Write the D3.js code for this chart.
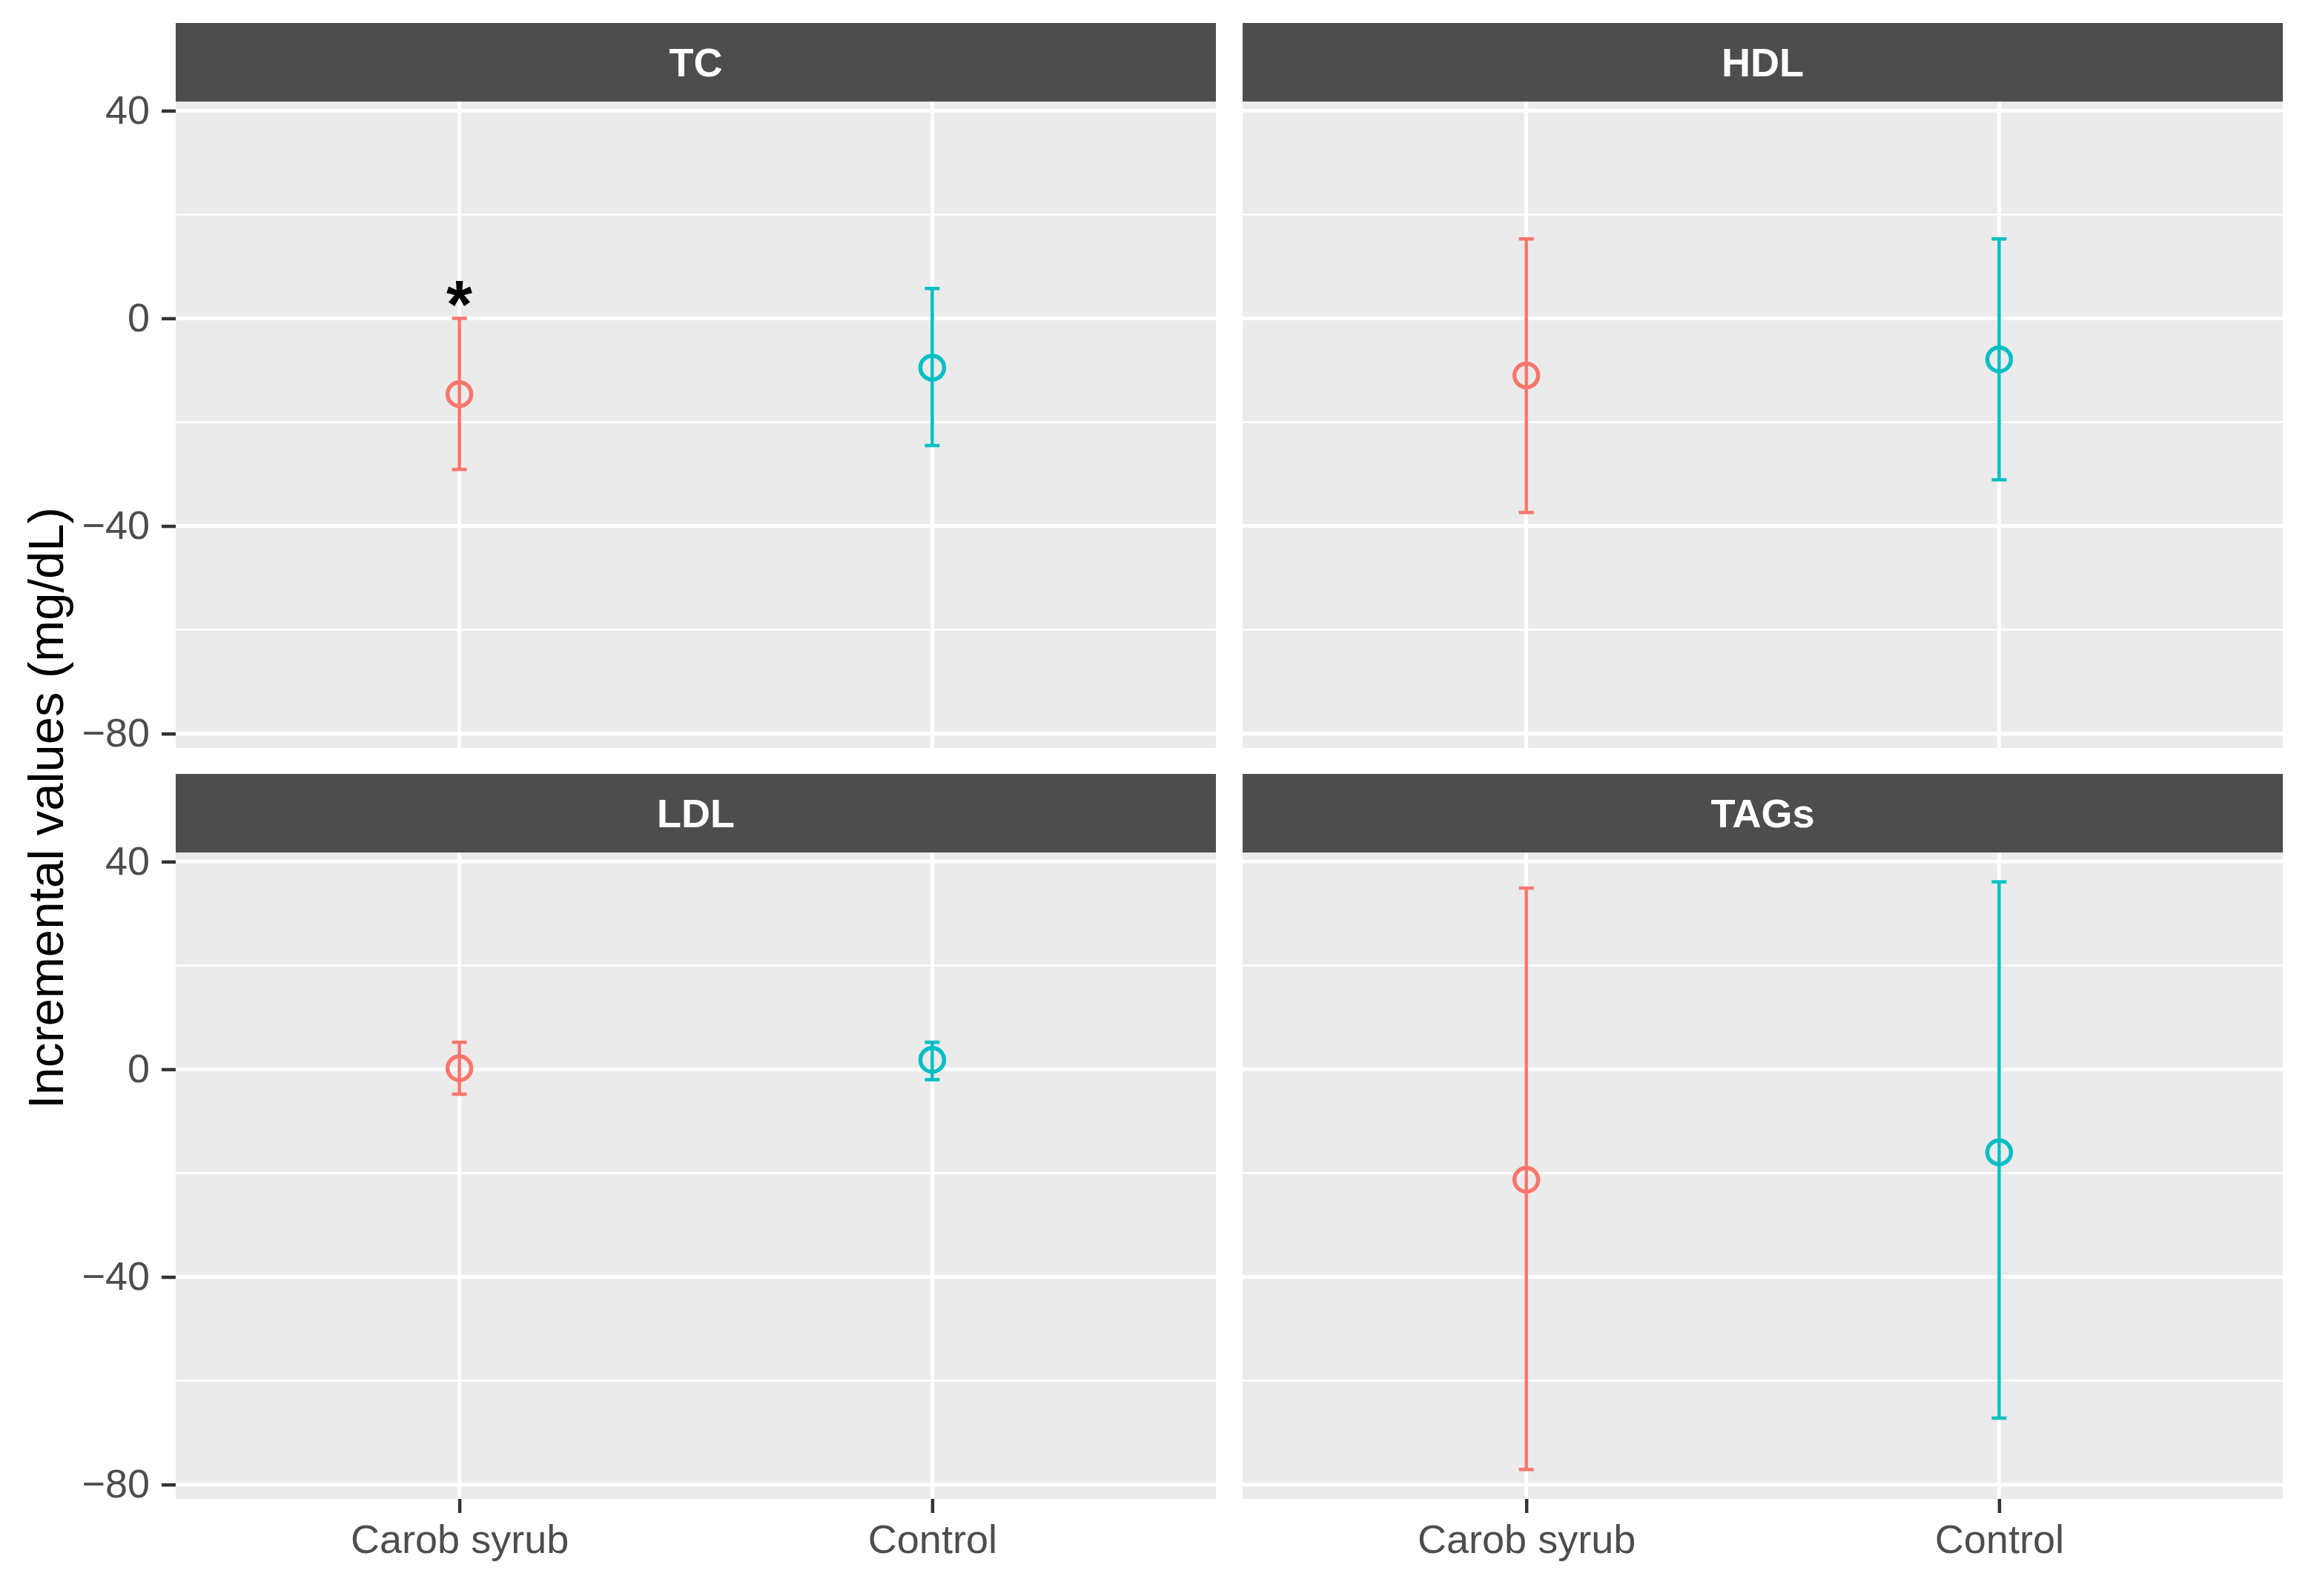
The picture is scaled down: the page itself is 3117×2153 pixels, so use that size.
<!DOCTYPE html>
<html>
<head>
<meta charset="utf-8">
<script src="https://cdn.jsdelivr.net/npm/d3@7"></script>
<style>
  body { margin: 0; background: #fff; }
  svg { display: block; font-family: "Liberation Sans", Arial, sans-serif; }
</style>
</head>
<body>
<svg id="chart"></svg>
<script>
// Values (mg/dL)
const panels = ['TC', 'HDL', 'LDL', 'TAGs'];
const groups = ['Carob syrub', 'Control'];
const means = [[-14.6, -9.5], [-11.0, -7.9], [0.2, 1.8], [-21.3, -16.0]];
const lowers = [[-29.1, -24.5], [-37.4, -31.1], [-4.8, -2.0], [-77.1, -67.2]];
const uppers = [[0.0, 5.75], [15.3, 15.3], [5.2, 5.2], [34.9, 36.1]];
const yTicks = [40, 0, -40, -80];
const yMinorTicks = [20, -20, -60];
const stars = [{ panel: 'TC', group: 'Carob syrub', y: 4.7, label: '*' }];
const colors = ['#F8766D', '#00BFC4'];

const width = 3117;
const height = 2153;

// panel layout (2 x 2 facets)
const panelW = 1403;
const panelH = 872;
const stripH = 106;
const colX = [237, 1676];
const rowY = [31, 1044];

const svg = d3.select('#chart').attr('width', width).attr('height', height);

// shared scales, ggplot style 5% expansion
const lo = d3.min(lowers.flat());
const hi = d3.max(uppers.flat());
const pad = (hi - lo) * 0.05;
const y = d3.scaleLinear().domain([lo - pad, hi + pad]).range([panelH, 0]);
const x = d3.scalePoint().domain(groups).range([0, panelW]).padding(0.6);

panels.forEach((name, i) => {
  const col = i % 2;
  const row = Math.floor(i / 2);
  const g = svg.append('g')
    .attr('transform', `translate(${colX[col]},${rowY[row] + stripH})`);

  // strip
  svg.append('rect')
    .attr('x', colX[col]).attr('y', rowY[row])
    .attr('width', panelW).attr('height', stripH)
    .attr('fill', '#4D4D4D');
  svg.append('text')
    .attr('x', colX[col] + panelW / 2)
    .attr('y', rowY[row] + stripH / 2)
    .attr('dy', '0.36em')
    .attr('text-anchor', 'middle')
    .attr('fill', '#fff')
    .attr('font-weight', 'bold')
    .attr('font-size', 54)
    .text(name);

  // panel background + grid
  g.append('rect').attr('width', panelW).attr('height', panelH).attr('fill', '#EBEBEB');
  g.selectAll('.minor')
    .data(yMinorTicks)
    .join('line')
    .attr('x1', 0).attr('x2', panelW)
    .attr('y1', d => y(d)).attr('y2', d => y(d))
    .attr('stroke', '#fff').attr('stroke-width', 2.5);
  g.selectAll('.major')
    .data(yTicks)
    .join('line')
    .attr('x1', 0).attr('x2', panelW)
    .attr('y1', d => y(d)).attr('y2', d => y(d))
    .attr('stroke', '#fff').attr('stroke-width', 5);
  g.selectAll('.vgrid')
    .data(groups)
    .join('line')
    .attr('x1', d => x(d)).attr('x2', d => x(d))
    .attr('y1', 0).attr('y2', panelH)
    .attr('stroke', '#fff').attr('stroke-width', 5);

  // error bars
  const rows = groups.map((grp, j) => ({
    grp, j, mean: means[i][j], lower: lowers[i][j], upper: uppers[i][j]
  }));
  const bars = g.selectAll('.bar').data(rows).join('g');
  bars.append('line')
    .attr('x1', d => x(d.grp)).attr('x2', d => x(d.grp))
    .attr('y1', d => y(d.lower)).attr('y2', d => y(d.upper))
    .attr('stroke', d => colors[d.j]).attr('stroke-width', 4.5);
  [d => d.lower, d => d.upper].forEach(acc => {
    bars.append('line')
      .attr('x1', d => x(d.grp) - 10).attr('x2', d => x(d.grp) + 10)
      .attr('y1', d => y(acc(d))).attr('y2', d => y(acc(d)))
      .attr('stroke', d => colors[d.j]).attr('stroke-width', 4.5);
  });
  bars.append('circle')
    .attr('cx', d => x(d.grp)).attr('cy', d => y(d.mean))
    .attr('r', 16)
    .attr('fill', 'none')
    .attr('stroke', d => colors[d.j]).attr('stroke-width', 5.5);

  // significance marks
  g.selectAll('.star')
    .data(stars.filter(s => s.panel === name))
    .join('text')
    .attr('x', d => x(d.group))
    .attr('y', d => y(d.y) + 45)
    .attr('text-anchor', 'middle')
    .attr('font-size', 90)
    .attr('font-weight', 'bold')
    .attr('fill', '#000')
    .text(d => d.label);

  // axes
  if (col === 0) {
    const ya = g.append('g')
      .call(d3.axisLeft(y).tickValues(yTicks).tickSize(19).tickPadding(16));
    ya.select('.domain').remove();
    ya.selectAll('line').attr('stroke', '#333').attr('stroke-width', 4.5);
    ya.selectAll('text').attr('font-size', 54).attr('fill', '#4D4D4D').attr('font-family', null);
  }
  if (row === 1) {
    const xa = g.append('g')
      .attr('transform', `translate(0,${panelH})`)
      .call(d3.axisBottom(x).tickSize(19).tickPadding(16));
    xa.select('.domain').remove();
    xa.selectAll('line').attr('stroke', '#333').attr('stroke-width', 4.5);
    xa.selectAll('text').attr('font-size', 54).attr('fill', '#4D4D4D').attr('font-family', null);
  }
});

// y axis title
svg.append('text')
  .attr('transform', 'translate(61,1090) rotate(-90)')
  .attr('dy', '0.36em')
  .attr('text-anchor', 'middle')
  .attr('font-size', 67)
  .attr('fill', '#000')
  .text('Incremental values (mg/dL)');
</script>
</body>
</html>
